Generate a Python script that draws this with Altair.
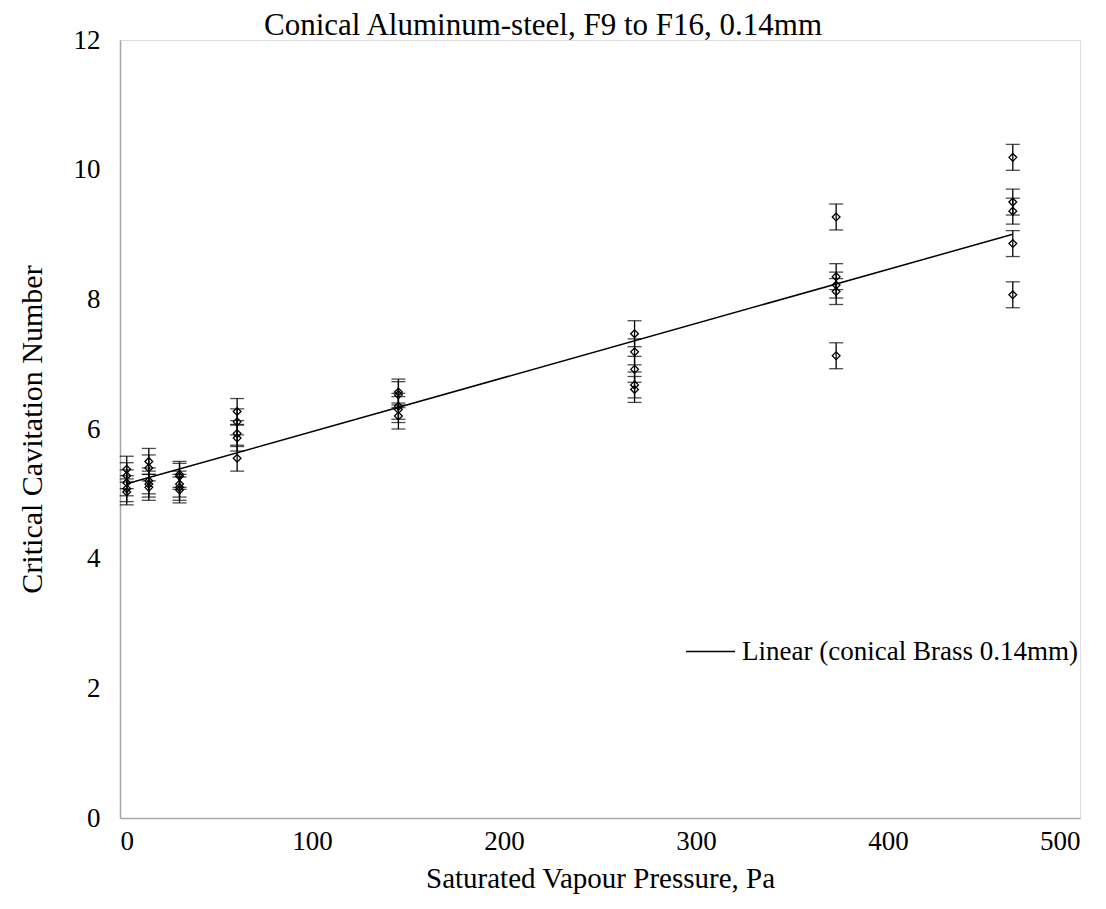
import altair as alt
import pandas as pd

pressure = [3.5, 15, 31, 61, 145, 268, 373, 465]
cavitation = [
    [5.38, 5.28, 5.17, 5.08, 5.03],
    [5.50, 5.40, 5.20, 5.15, 5.10],
    [5.30, 5.27, 5.15, 5.10, 5.06],
    [6.27, 6.11, 5.93, 5.86, 5.55],
    [6.57, 6.53, 6.35, 6.30, 6.20],
    [7.47, 7.19, 6.92, 6.68, 6.61],
    [9.27, 8.35, 8.22, 8.12, 7.13],
    [10.19, 9.50, 9.36, 8.86, 8.07],
]
error = 0.2
trend_label = "Linear (conical Brass 0.14mm)"

rows = []
for p, ys in zip(pressure, cavitation):
    for y in ys:
        rows.append({"x": p, "y": y, "lo": y - error, "hi": y + error})
df = pd.DataFrame(rows)

FONT = "Liberation Serif"

xscale = alt.Scale(domain=[0, 500], nice=False)
yscale = alt.Scale(domain=[0, 12], nice=False)

xaxis = alt.Axis(title="Saturated Vapour Pressure, Pa", values=[0, 100, 200, 300, 400, 500],
                 format="d", grid=False, ticks=False, domainColor="#a6a6a6", domainWidth=1.5,
                 labelFont=FONT, labelFontSize=27, labelColor="black", labelPadding=10,
                 titleFont=FONT, titleFontSize=29, titleFontWeight="normal",
                 titleColor="black", titlePadding=10)
yaxis = alt.Axis(title="Critical Cavitation Number", values=[0, 2, 4, 6, 8, 10, 12],
                 format="d", grid=False, ticks=False, domainColor="#a6a6a6", domainWidth=1.5,
                 labelFont=FONT, labelFontSize=27, labelColor="black", labelPadding=20,
                 titleFont=FONT, titleFontSize=30, titleFontWeight="normal",
                 titleColor="black", titlePadding=26)

base = alt.Chart(df)

points = base.mark_point(shape="diamond", size=60, filled=False, color="black",
                         strokeWidth=1.3, opacity=1).encode(
    x=alt.X("x:Q", scale=xscale, axis=xaxis),
    y=alt.Y("y:Q", scale=yscale, axis=yaxis),
)

bars = base.mark_rule(color="black", strokeWidth=1.3).encode(
    x="x:Q", y="lo:Q", y2="hi:Q")
cap_lo = base.mark_tick(color="black", orient="horizontal", size=14, thickness=1.3).encode(
    x="x:Q", y="lo:Q")
cap_hi = base.mark_tick(color="black", orient="horizontal", size=14, thickness=1.3).encode(
    x="x:Q", y="hi:Q")

trend = base.transform_regression("x", "y").transform_calculate(
    series=f'"{trend_label}"'
).mark_line(strokeWidth=1.5).encode(
    x="x:Q", y="y:Q",
    color=alt.Color("series:N",
                    scale=alt.Scale(domain=[trend_label], range=["black"]),
                    legend=alt.Legend(title=None, orient="none", legendX=565, legendY=586,
                                      symbolType="stroke", symbolSize=2400, symbolStrokeWidth=1.5,
                                      labelFont=FONT, labelFontSize=27, labelColor="black",
                                      labelLimit=600, labelOffset=6)),
)

chart = alt.layer(bars, cap_lo, cap_hi, points, trend).properties(
    width=960, height=778,
    title=alt.TitleParams("Conical Aluminum-steel, F9 to F16, 0.14mm", font=FONT,
                          fontSize=31, fontWeight="normal", color="black", offset=-16, dx=-57),
    autosize=alt.AutoSizeParams(type="none"),
    padding={"left": 112, "top": 32, "right": 18, "bottom": 83},
).configure_view(stroke="transparent", strokeWidth=0).configure(background="white")

chart.save("out.html", embed_options={"renderer": "svg", "actions": False})
